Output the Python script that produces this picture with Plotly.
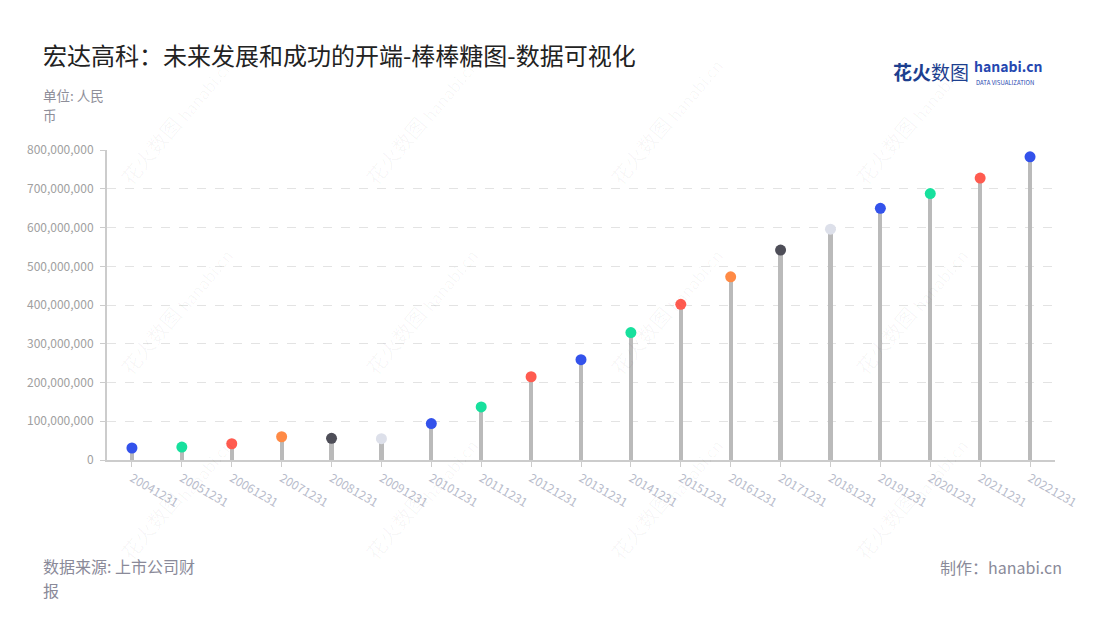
import plotly.graph_objects as go

categories = ["20041231", "20051231", "20061231", "20071231", "20081231", "20091231",
              "20101231", "20111231", "20121231", "20131231", "20141231", "20151231",
              "20161231", "20171231", "20181231", "20191231", "20201231", "20211231",
              "20221231"]
values = [31e6, 33.5e6, 42e6, 60e6, 56e6, 55e6,
          94e6, 137e6, 215e6, 259e6, 329e6, 402e6,
          473e6, 542e6, 596e6, 650e6, 688e6, 728e6,
          783e6]
point_colors = ["#3352eb", "#17e09d", "#ff5b4f", "#ff8a45", "#4e4e58", "#dde0ea",
                "#3352eb", "#17e09d", "#ff5b4f", "#3352eb", "#17e09d", "#ff5b4f",
                "#ff8a45", "#4e4e58", "#dde0ea", "#3352eb", "#17e09d", "#ff5b4f",
                "#3352eb"]
y_ticks = [0, 1e8, 2e8, 3e8, 4e8, 5e8, 6e8, 7e8, 8e8]

FONT = "Noto Sans CJK SC, Noto Sans, sans-serif"

# page offset (body margin) compensation
OFF = 8
L, R, T, B = 107 - OFF, 1055 - OFF, 150 - OFF, 460 - OFF
pw, ph = R - L, B - T


def px(x):
    return (x - OFF - L) / pw


def py(y):
    return (B - (y - OFF)) / ph


fig = go.Figure()
fig.add_trace(go.Bar(x=categories, y=values, width=0.085,
                     marker=dict(color="#bababa", line=dict(width=0)),
                     hoverinfo="skip", showlegend=False))
fig.add_trace(go.Scatter(x=categories, y=values, mode="markers",
                         marker=dict(size=11, color=point_colors, line=dict(width=0)),
                         showlegend=False))

# faint watermarks
for wx in [150, 395, 640, 885]:
    for wy in [150, 340, 525]:
        fig.add_annotation(x=px(wx), y=py(wy), xref="paper", yref="paper", text="花火数图",
                           showarrow=False, textangle=-50, xanchor="center", yanchor="middle",
                           font=dict(family=FONT, size=20, color="rgba(0,0,0,0.035)"))
for wx in [205, 450, 695, 940]:
    for wy in [90, 280, 470]:
        fig.add_annotation(x=px(wx), y=py(wy), xref="paper", yref="paper",
                           text="hanabi.cn", showarrow=False, textangle=-50,
                           xanchor="center", yanchor="middle",
                           font=dict(family=FONT, size=16, color="rgba(0,0,0,0.035)"))

fig.update_layout(
    width=1100, height=620,
    paper_bgcolor="white", plot_bgcolor="white",
    margin=dict(l=L, r=1100 - R, t=T, b=620 - B),
    font=dict(family=FONT),
    bargap=0,
    xaxis=dict(type="category", range=[-0.5, 18.5],
               showline=True, linecolor="#cccccc", linewidth=2,
               ticks="outside", ticklen=5, tickcolor="#cccccc",
               tickangle=30, tickfont=dict(size=12, color="#b8bccb"),
               showgrid=False, zeroline=False),
    yaxis=dict(range=[0, 8.005e8], tickvals=y_ticks, tickformat=",d",
               showline=True, linecolor="#cccccc", linewidth=2,
               ticks="outside", ticklen=5, tickcolor="#cccccc",
               ticklabelstandoff=4,
               tickfont=dict(size=12, color="#a0a0a0"),
               showgrid=True, gridcolor="#e3e3e3", griddash="dash", gridwidth=1,
               zeroline=False),
)


def text_at(x, y, s, size, color, xanchor="left"):
    fig.add_annotation(x=px(x), y=py(y), xref="paper", yref="paper", text=s,
                       showarrow=False, xanchor=xanchor, yanchor="middle", borderpad=0,
                       font=dict(family=FONT, size=size, color=color))


text_at(42, 54, "宏达高科：未来发展和成功的开端-棒棒糖图-数据可视化", 24, "#222222")
text_at(42, 95, "单位: 人民", 13.5, "#8e8e99")
text_at(42, 115, "币", 13.5, "#8e8e99")
text_at(42, 566, "数据来源: 上市公司财", 16, "#8a8a99")
text_at(42, 590, "报", 16, "#8a8a99")
text_at(1063, 567, "制作：hanabi.cn", 16, "#8a8a99", xanchor="right")

# logo
text_at(892, 72, "<b>花火</b>数图", 19, "#1d3f8f")
fig.add_annotation(x=px(973), y=py(77), xref="paper", yref="paper",
                   text="<b>hanabi.cn</b>", showarrow=False, xanchor="left", yanchor="bottom",
                   borderpad=0, font=dict(family=FONT, size=14, color="#2647b0"))
fig.add_annotation(x=px(975), y=py(77), xref="paper", yref="paper",
                   text="DATA VISUALIZATION", showarrow=False, xanchor="left", yanchor="top",
                   borderpad=0, font=dict(family=FONT, size=6, color="#2647b0"))

fig.write_html("out.html")
